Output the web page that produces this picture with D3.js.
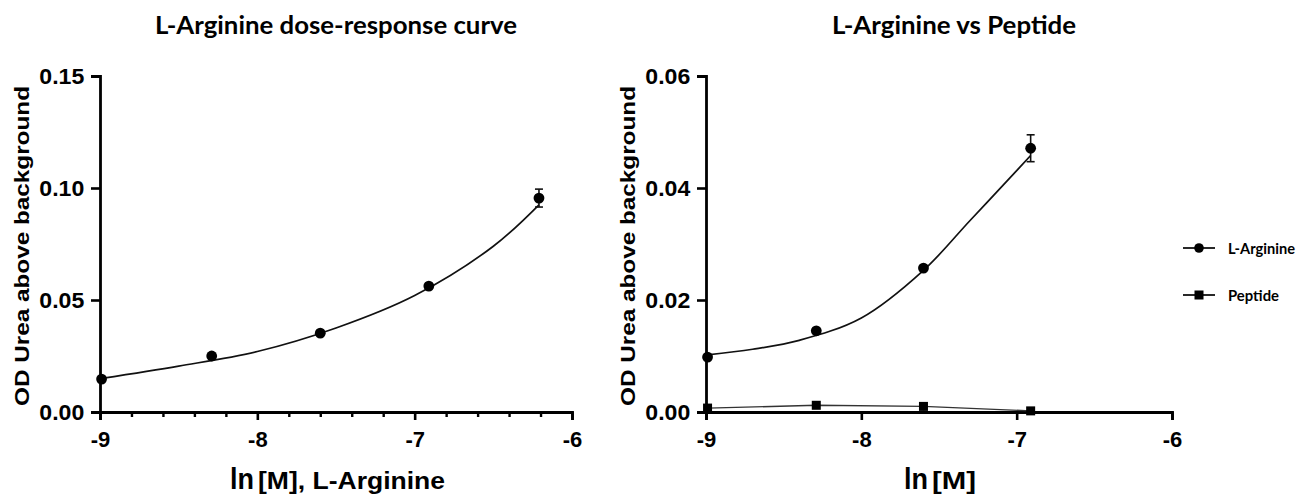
<!DOCTYPE html>
<html>
<head>
<meta charset="utf-8">
<script src="https://cdn.jsdelivr.net/npm/d3@7"></script>
<style>
  body { margin: 0; background: #fff; }
  svg { display: block; }
  .tick text { font-family: "Liberation Sans", Arial, sans-serif; font-weight: bold; }
</style>
</head>
<body>
<svg width="1302" height="495"></svg>
<script>
// ln of concentration (0.125, 0.25, 0.5, 1, 2 mM)
var doseX = [-8.99, -8.29, -7.60, -6.91, -6.21]
var argY = [0.0147, 0.0250, 0.0352, 0.0562, 0.0955]
var argErr = [0.0006, 0.0006, 0.0006, 0.0008, 0.0040]
// fitted curve
var argFitX = [-8.99, -8.5, -8.0, -7.5, -7.0, -6.5, -6.21]
var argFitY = [0.0150, 0.0205, 0.0270, 0.0375, 0.0520, 0.0740, 0.0925]

var cmpX = [-8.99, -8.29, -7.60, -6.91]
var cmpArgY = [0.0098, 0.0145, 0.0257, 0.0471]
var cmpArgErr = [0.0003, 0.0003, 0.0004, 0.0024]
var cmpFitX = [-8.99, -8.7, -8.4, -8.0, -7.6, -7.3, -7.0, -6.91]
var cmpFitY = [0.0102, 0.0112, 0.0128, 0.0168, 0.0253, 0.0342, 0.0431, 0.0458]
var pepY = [0.0007, 0.0012, 0.0010, 0.0002]
var pepErr = [0.0002, 0.0004, 0.0007, 0.0002]

var xTicks = [-9, -8, -7, -6]
var leftYTicks = [0, 0.05, 0.10, 0.15]
var rightYTicks = [0, 0.02, 0.04, 0.06]
var legendNames = ['L-Arginine', 'Peptide']

var svg = d3.select('svg')

function panel(opts) {
  var x = d3.scaleLinear().domain([-9, -6]).range([opts.x0, opts.x1])
  var y = d3.scaleLinear().domain([0, opts.yMax]).range([412, 76])
  var g = svg.append('g')

  var xAxis = g.append('g')
    .attr('transform', 'translate(0,412)')
    .call(d3.axisBottom(x).tickValues(xTicks).tickFormat(d3.format('d')).tickSize(8).tickPadding(11))
  xAxis.select('.domain').attr('stroke-width', 2.8)
  xAxis.selectAll('.tick line').attr('stroke-width', 2.6)
  xAxis.selectAll('.tick text').attr('font-size', 22).text(d => '-' + Math.abs(d))

  if (opts.minor) {
    g.append('g')
      .attr('transform', 'translate(0,412)')
      .call(d3.axisBottom(x).tickValues(d3.range(-9, -6, 0.2).filter(v => Math.abs(v - Math.round(v)) > 0.01)).tickSize(5).tickFormat(''))
      .call(s => s.select('.domain').remove())
      .selectAll('.tick line').attr('stroke-width', 2.4)
  }

  var yAxis = g.append('g')
    .attr('transform', 'translate(' + opts.x0 + ',0)')
    .call(d3.axisLeft(y).tickValues(opts.yTicks).tickFormat(d3.format('.2f')).tickSize(9).tickPadding(5))
  yAxis.select('.domain').attr('stroke-width', 2.8)
  yAxis.selectAll('.tick line').attr('stroke-width', 2.6)
  yAxis.selectAll('.tick text').attr('font-size', 22)
    .attr('transform', 'scale(1.05,1)').attr('dx', -1)

  // y title
  g.append('text')
    .attr('transform', 'translate(' + (opts.x0 - 71) + ',246) rotate(-90)')
    .attr('text-anchor', 'middle')
    .attr('font-family', '"Liberation Sans", Arial, sans-serif')
    .attr('font-weight', 'bold')
    .attr('font-size', 20)
    .attr('textLength', 320)
    .attr('lengthAdjust', 'spacingAndGlyphs')
    .text('OD Urea above background')

  // chart title
  g.append('text')
    .attr('x', opts.titleX).attr('y', 34)
    .attr('text-anchor', 'middle')
    .attr('font-family', 'Lato, "Open Sans", sans-serif')
    .attr('font-weight', 'bold')
    .attr('font-size', 25)
    .attr('textLength', opts.titleW)
    .attr('lengthAdjust', 'spacingAndGlyphs')
    .text(opts.title)

  // x title: large "ln" then the unit part
  g.append('text')
    .attr('x', opts.lnX).attr('y', 489)
    .attr('font-family', '"Liberation Sans", Arial, sans-serif')
    .attr('font-weight', 'bold')
    .attr('font-size', 29)
    .attr('textLength', 24)
    .attr('lengthAdjust', 'spacingAndGlyphs')
    .text('ln')
  g.append('text')
    .attr('x', opts.lnX + 28).attr('y', 489)
    .attr('font-family', '"Liberation Sans", Arial, sans-serif')
    .attr('font-weight', 'bold')
    .attr('font-size', 23)
    .attr('textLength', opts.unitW)
    .attr('lengthAdjust', 'spacingAndGlyphs')
    .text(opts.unit)

  return { g: g, x: x, y: y }
}

function fitLine(p, fx, fy) {
  p.g.append('path')
    .datum(fx.map((v, i) => [v, fy[i]]))
    .attr('fill', 'none')
    .attr('stroke', '#111')
    .attr('stroke-width', 1.7)
    .attr('d', d3.line().x(d => p.x(d[0])).y(d => p.y(d[1])).curve(d3.curveCatmullRom.alpha(0.5)))
}

function errorBars(p, xs, ys, es) {
  var eb = p.g.append('g').attr('stroke', '#111').attr('stroke-width', 1.6)
  xs.forEach(function (v, i) {
    var cx = p.x(v), top = p.y(ys[i] + es[i]), bot = p.y(ys[i] - es[i])
    eb.append('line').attr('x1', cx).attr('x2', cx).attr('y1', top).attr('y2', bot)
    if (top < p.y(ys[i]) - 4) {
      eb.append('line').attr('x1', cx - 4).attr('x2', cx + 4).attr('y1', top).attr('y2', top)
      eb.append('line').attr('x1', cx - 4).attr('x2', cx + 4).attr('y1', bot).attr('y2', bot)
    }
  })
}

function dots(p, xs, ys, r) {
  p.g.append('g').selectAll('circle')
    .data(xs.map((v, i) => [v, ys[i]]))
    .enter().append('circle')
    .attr('cx', d => p.x(d[0])).attr('cy', d => p.y(d[1]))
    .attr('r', r).attr('fill', '#000')
}

function squares(p, xs, ys, s) {
  p.g.append('g').selectAll('rect')
    .data(xs.map((v, i) => [v, ys[i]]))
    .enter().append('rect')
    .attr('x', d => p.x(d[0]) - s / 2).attr('y', d => p.y(d[1]) - s / 2)
    .attr('width', s).attr('height', s).attr('fill', '#000')
}

// left panel
var left = panel({
  x0: 100, x1: 572, yMax: 0.15, yTicks: leftYTicks, minor: true,
  title: 'L-Arginine dose-response curve', titleX: 336, titleW: 362,
  lnX: 230, unit: '[M], L-Arginine', unitW: 187
})
fitLine(left, argFitX, argFitY)
errorBars(left, doseX, argY, argErr)
dots(left, doseX, argY, 5.4)

// right panel
var right = panel({
  x0: 706, x1: 1172, yMax: 0.06, yTicks: rightYTicks, minor: false,
  title: 'L-Arginine vs Peptide', titleX: 954, titleW: 244,
  lnX: 904, unit: '[M]', unitW: 44
})
fitLine(right, cmpFitX, cmpFitY)
right.g.append('path')
  .datum(cmpX.map((v, i) => [v, pepY[i]]))
  .attr('fill', 'none').attr('stroke', '#333').attr('stroke-width', 1.4)
  .attr('d', d3.line().x(d => right.x(d[0])).y(d => right.y(d[1])))
errorBars(right, cmpX, cmpArgY, cmpArgErr)
errorBars(right, cmpX, pepY, pepErr)
dots(right, cmpX, cmpArgY, 5.4)
squares(right, cmpX, pepY, 9)

// legend
var legend = svg.append('g')
var legendW = [67, 51]
legendNames.forEach(function (name, i) {
  var ly = 248 + i * 47
  legend.append('line').attr('x1', 1183).attr('x2', 1215).attr('y1', ly).attr('y2', ly)
    .attr('stroke', '#111').attr('stroke-width', 1.8)
  if (i === 0) legend.append('circle').attr('cx', 1199).attr('cy', ly).attr('r', 4.8).attr('fill', '#000')
  else legend.append('rect').attr('x', 1194.5).attr('y', ly - 4.5).attr('width', 9).attr('height', 9).attr('fill', '#000')
  legend.append('text')
    .attr('x', 1228).attr('y', ly + 6)
    .attr('font-family', 'Lato, "Open Sans", sans-serif')
    .attr('font-weight', 'bold')
    .attr('font-size', 15)
    .attr('textLength', legendW[i])
    .attr('lengthAdjust', 'spacingAndGlyphs')
    .text(name)
})
</script>
</body>
</html>
